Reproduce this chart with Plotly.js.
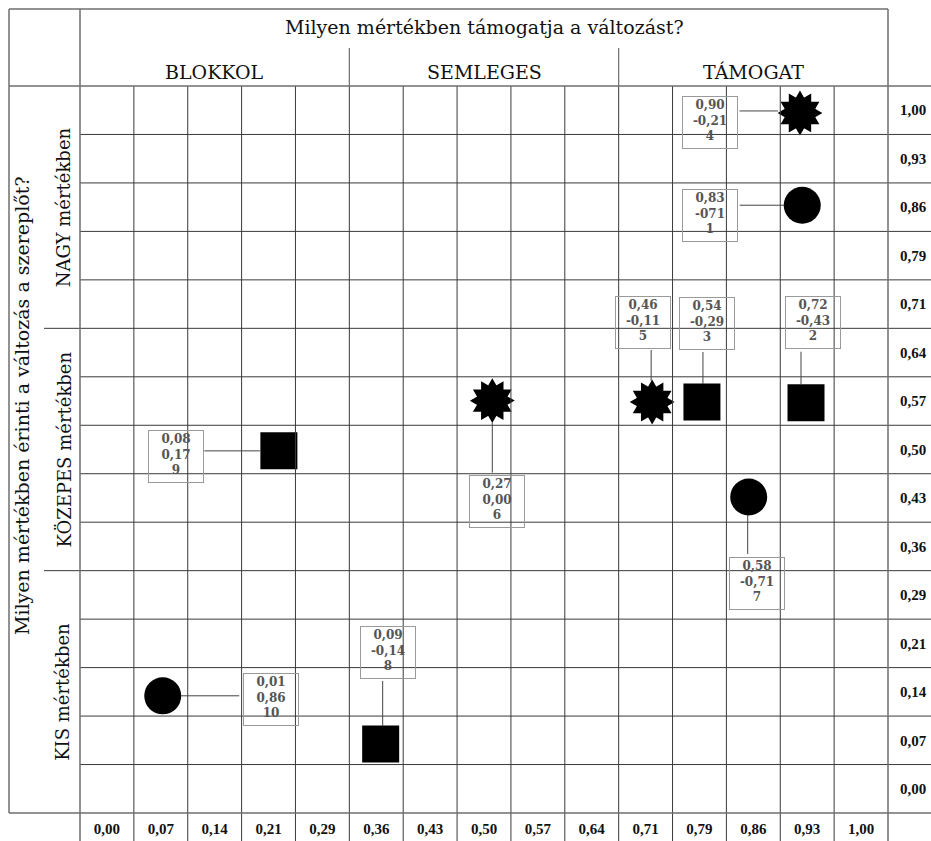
<!DOCTYPE html>
<html><head><meta charset="utf-8">
<script src="https://cdn.plot.ly/plotly-3.0.1.min.js"></script>
<style>html,body{margin:0;padding:0;background:#fff}#chart{width:931px;height:841px}</style>
</head><body><div id="chart"></div>
<script>
// ---------- data ----------
const xTicks = ['0,00','0,07','0,14','0,21','0,29','0,36','0,43','0,50','0,57','0,64','0,71','0,79','0,86','0,93','1,00'];
const yTicks = ['0,00','0,07','0,14','0,21','0,29','0,36','0,43','0,50','0,57','0,64','0,71','0,79','0,86','0,93','1,00'];
const colGroups = ['BLOKKOL','SEMLEGES','TÁMOGAT'];
const rowGroups = ['KIS mértékben','KÖZEPES mértékben','NAGY mértékben'];
const titleTop = 'Milyen mértékben támogatja a változást?';
const titleLeft = 'Milyen mértékben érinti a változás a szereplőt?';

const pointIds   = ['1','2','3','4','5','6','7','8','9','10'];
const pointX     = [0.922, 0.927, 0.789, 0.919, 0.723, 0.511, 0.851, 0.363, 0.228, 0.074];
const pointY     = [0.860, 0.569, 0.570, 0.996, 0.570, 0.572, 0.430, 0.066, 0.498, 0.137];
const pointShape = ['circle','square','square','star','star','star','circle','square','square','circle'];
const labelLine1 = ['0,83','0,72','0,54','0,90','0,46','0,27','0,58','0,09','0,08','0,01'];
const labelLine2 = ['-071','-0,43','-0,29','-0,21','-0,11','0,00','-0,71','-0,14','0,17','0,86'];

// ---------- layout-only placement of label boxes (pixels) ----------
const boxShift  = [[-92,-10],[7,80],[5,79],[-90,-10],[-9,80],[5,-101],[8,-86],[7,91],[-103,-6],[108,-4]];
const linkTail  = [[-64,0],[0,-53],[0,-52],[-62,0],[0,-54],[0,74],[0,59],[0,-65],[-76,0],[78,0]];
const linkShift = [[0,0],[-5,0],[1,0],[0,2],[-1,0],[0,0],[-1,0],[2,0],[0,0],[0,0]];
const standoffs = [18,18,18,22,21,22,18,18,19,18];

// ---------- geometry ----------
const W = 931, H = 841, L = 80, R = 888, T = 86, B = 813;
const PX = p => (p - L) / (R - L);
const PY = p => (B - p) / (B - T);
const nC = xTicks.length, nR = yTicks.length;
const step = 1 / (nC - 1);
const half = step / 2;

const serif = 'DejaVu Serif';
const numFont = 'Liberation Serif';

// ---------- traces ----------
function pick(shape){ const idx=[]; pointShape.forEach((s,i)=>{ if(s===shape) idx.push(i); }); return idx; }
const traces = [];
const ci = pick('circle'), si = pick('square'), ti = pick('star');
traces.push({type:'scatter', mode:'markers', x:ci.map(i=>pointX[i]), y:ci.map(i=>pointY[i]),
  marker:{symbol:'circle', size:37, color:'#000', line:{width:0}}, hoverinfo:'skip'});
traces.push({type:'scatter', mode:'markers', x:si.map(i=>pointX[i]), y:si.map(i=>pointY[i]),
  marker:{symbol:'square', size:37, color:'#000', line:{width:0}}, hoverinfo:'skip'});
[0,30].forEach(a=>traces.push({type:'scatter', mode:'markers', x:ti.map(i=>pointX[i]), y:ti.map(i=>pointY[i]),
  marker:{symbol:'hexagram', size:34, angle:a, color:'#000', line:{width:0}}, hoverinfo:'skip'}));

// ---------- shapes ----------
const shapes = [];
const gridC = '#3a3a3a', frameC = '#6e6e6e';
function line(x0,y0,x1,y1,c,w){ shapes.push({type:'line', xref:'paper', yref:'paper', x0,y0,x1,y1, line:{color:c, width:w}}); }
for(let i=1;i<nC;i++){ line(i/nC, PY(H), i/nC, 1, gridC, 1); }
for(let j=1;j<nR;j++){
  const grp = (j % 5 === 0);
  line(grp ? PX(44) : 0, j/nR, PX(W), j/nR, gridC, 1);
}
line(0, PY(H), 0, PY(9), frameC, 1.5);
line(1, PY(H), 1, PY(9), frameC, 1.5);
line(PX(9), 0, PX(9), PY(9), frameC, 1.5);
line(PX(9), PY(9), 1, PY(9), frameC, 1.5);
line(PX(9), 1, PX(W), 1, frameC, 1.5);
line(PX(9), 0, PX(W), 0, frameC, 1.5);
for(let g=1; g<colGroups.length; g++){ line(g*5/nC, 1, g*5/nC, PY(48), frameC, 1.2); }

// ---------- annotations ----------
const ann = [];
ann.push({xref:'paper', yref:'paper', x:0.5, y:PY(27), text:titleTop, showarrow:false,
  font:{family:serif, size:19, color:'#111'}, xanchor:'center', yanchor:'middle'});
colGroups.forEach((g,k)=>ann.push({xref:'paper', yref:'paper', x:(k*5+2.5)/nC, y:PY(72), text:g, showarrow:false,
  font:{family:serif, size:19, color:'#111'}, xanchor:'center', yanchor:'middle'}));
ann.push({xref:'paper', yref:'paper', x:PX(22), y:PY(406), text:titleLeft, textangle:-90, showarrow:false,
  font:{family:serif, size:19, color:'#111'}, xanchor:'center', yanchor:'middle'});
rowGroups.forEach((g,k)=>ann.push({xref:'paper', yref:'paper', x:PX(63), y:(k*5+2.5)/nR, text:g, textangle:-90, showarrow:false,
  font:{family:serif, size:18, color:'#111'}, xanchor:'center', yanchor:'middle'}));

pointIds.forEach((id,i)=>{
  ann.push({x:pointX[i], y:pointY[i], xref:'x', yref:'y', showarrow:true, text:' ', font:{size:1, color:'rgba(0,0,0,0)'},
    ax:linkTail[i][0], ay:linkTail[i][1], xshift:linkShift[i][0], yshift:linkShift[i][1],
    arrowhead:0, arrowwidth:1, arrowcolor:'#444', standoff:standoffs[i]});
  ann.push({x:pointX[i], y:pointY[i], xref:'x', yref:'y', showarrow:false,
    text: labelLine1[i] + '<br>' + labelLine2[i] + '<br>' + id,
    xshift:boxShift[i][0], yshift:boxShift[i][1], width:52, height:49, borderpad:1,
    bordercolor:'#9a9a9a', borderwidth:1, bgcolor:'rgba(255,255,255,0)',
    font:{family:serif, size:12, color:'#555', weight:'bold'}, align:'center', valign:'top'});
});

const layout = {
  width:W, height:H, margin:{l:L, r:W-R, t:T, b:H-B, pad:0},
  paper_bgcolor:'#fff', plot_bgcolor:'#fff', showlegend:false,
  xaxis:{range:[-half, 1+half], tickvals:xTicks.map((_,i)=>i*step), ticktext:xTicks,
    showgrid:false, zeroline:false, showline:false, ticks:'', ticklabelstandoff:5,
    tickfont:{family:numFont, size:15, color:'#111', weight:'bold'}, fixedrange:true},
  yaxis:{range:[-half, 1+half], tickvals:yTicks.map((_,i)=>i*step), ticktext:yTicks, side:'right',
    showgrid:false, zeroline:false, showline:false, ticks:'', ticklabelstandoff:11,
    tickfont:{family:numFont, size:15, color:'#111', weight:'bold'}, fixedrange:true},
  shapes, annotations:ann
};
Plotly.newPlot('chart', traces, layout, {displayModeBar:false, staticPlot:true});
</script></body></html>
